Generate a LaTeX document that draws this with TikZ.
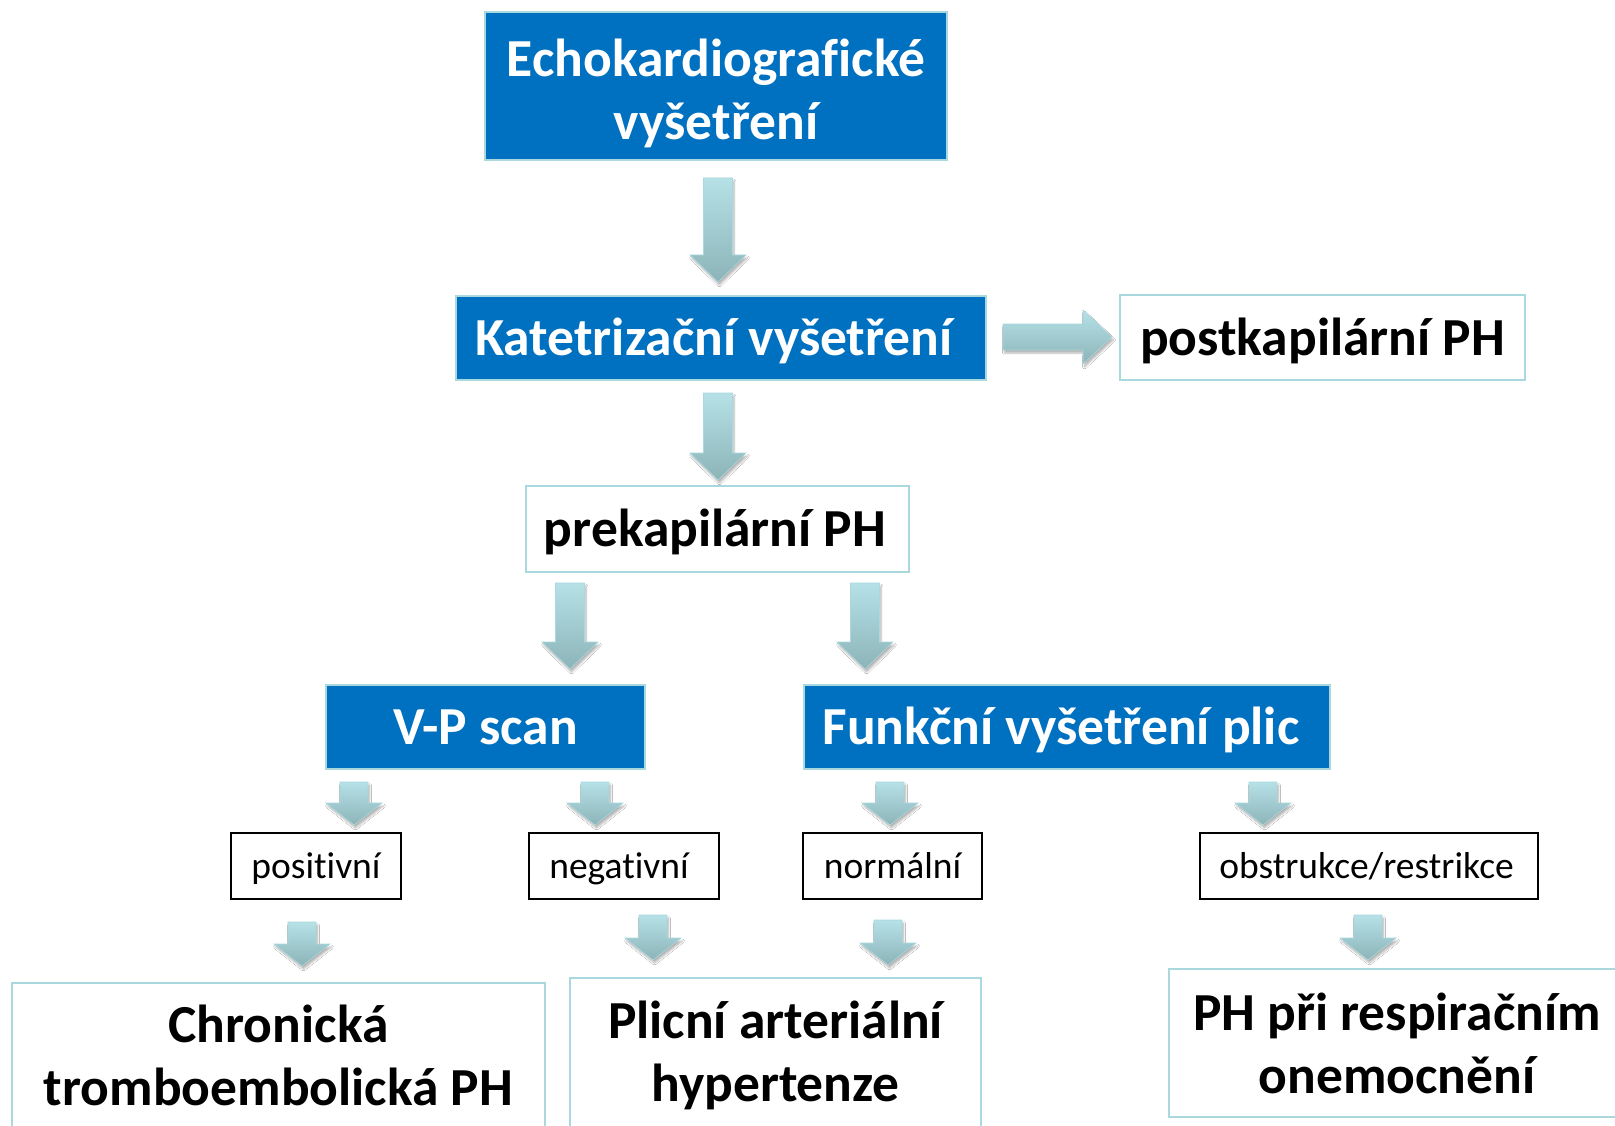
\documentclass[tikz,border=0pt]{standalone}
\usepackage{fontspec}
\setmainfont{Carlito}[Ligatures=NoCommon]
\usetikzlibrary{calc,shadows.blur}
\definecolor{dblue}{HTML}{0070C0}
\definecolor{lteal}{HTML}{A9D8DE}
\definecolor{atop}{HTML}{B5E1E7}
\definecolor{abot}{HTML}{8CB4B8}
\newcommand\varrow[5]{%
  \path[blockarrow] ($(#1)+(-#3,0)$) -- ($(#2)+(-#3,-#5)$) -- ($(#2)+(-#4,-#5)$) -- (#2)
    -- ($(#2)+(#4,-#5)$) -- ($(#2)+(#3,-#5)$) -- ($(#1)+(#3,0)$) -- cycle;}
\newcommand\harrow[5]{%
  \path[blockarrow] ($(#1)+(0,-#3)$) -- ($(#2)+(-#5,-#3)$) -- ($(#2)+(-#5,-#4)$) -- (#2)
    -- ($(#2)+(-#5,#4)$) -- ($(#2)+(-#5,#3)$) -- ($(#1)+(0,#3)$) -- cycle;}
\begin{document}
\begin{tikzpicture}[x=1pt,y=-1pt,
  bigfont/.style={font=\fontsize{53.5}{63}\selectfont\bfseries},
  bluebox/.style={bigfont, draw=lteal, line width=1.5pt, fill=dblue, text=white, align=center, inner sep=0pt},
  whitebox/.style={bigfont, draw=lteal, line width=2pt, fill=white, text=black, align=center, inner sep=0pt},
  labelbox/.style={draw=black, line width=1.5pt, fill=white, font=\fontsize{37.5}{45}\selectfont, inner sep=0pt, text height=29pt, text depth=4pt},
  one/.style={text height=43pt, text depth=8pt},
  blockarrow/.style={top color=atop, bottom color=abot, draw=lteal, line width=0.6pt,
    blur shadow={shadow xshift=1.5pt, shadow yshift=-3pt, shadow blur steps=6, shadow opacity=30}}]
\useasboundingbox (0,0) rectangle (1615,1126);
\clip (0,0) rectangle (1615,1126);
\fill[white] (0,0) rectangle (1615,1126);

\node[bluebox, minimum width=462pt, minimum height=148pt] (echo) at (716,86) {\rule{0pt}{52pt}Echokardiografické\\vyšetření};
\node[bluebox, one, minimum width=530pt, minimum height=84pt] (kat) at (721,338) {Katetrizační vyšetření\hspace*{14pt}};
\node[whitebox, one, minimum width=405pt, minimum height=85pt] (post) at (1322.5,337.5) {postkapilární PH};
\node[whitebox, one, minimum width=383pt, minimum height=86pt] (prek) at (717.5,529) {prekapilární PH\hspace*{5pt}};
\node[bluebox, one, minimum width=319pt, minimum height=84pt] (vp) at (485.5,727) {V-P scan};
\node[bluebox, one, minimum width=526pt, minimum height=84pt] (funk) at (1067,727) {Funkční vyšetření plic\hspace*{12pt}};
\node[labelbox, minimum width=170pt, minimum height=66pt] (pos) at (316,866) {positivní};
\node[labelbox, minimum width=190pt, minimum height=66pt] (neg) at (624,866) {negativní\hspace*{10pt}};
\node[labelbox, minimum width=179pt, minimum height=66pt] (norm) at (892.5,866) {normální};
\node[labelbox, minimum width=338pt, minimum height=66pt] (obst) at (1369,866) {obstrukce/restrikce\hspace*{5pt}};
\node[whitebox, minimum width=533pt, minimum height=145pt] (chron) at (278.5,1055) {Chronická\\tromboembolická PH};
\node[whitebox, minimum width=411pt, minimum height=154pt] (plic) at (775.5,1055) {Plicní arteriální\\hypertenze};
\node[whitebox, minimum width=456pt, minimum height=148pt] (resp) at (1397,1043) {PH při respiračním\\onemocnění};

% connector end points
\coordinate (a1s) at (718,178);  \coordinate (a1e) at (718,282);
\coordinate (a2s) at (718,393);  \coordinate (a2e) at (718,480);
\coordinate (a3s) at (1003,337); \coordinate (a3e) at (1112,337);
\coordinate (a4s) at (570,583);  \coordinate (a4e) at (570,669);
\coordinate (a5s) at (865,583);  \coordinate (a5e) at (865,669);
\coordinate (b1s) at (354,782);  \coordinate (b1e) at (354,825);
\coordinate (b2s) at (595,782);  \coordinate (b2e) at (595,825);
\coordinate (b3s) at (890,782);  \coordinate (b3e) at (890,825);
\coordinate (b4s) at (1263,782); \coordinate (b4e) at (1263,825);
\coordinate (c1s) at (302,922);  \coordinate (c1e) at (302,966);
\coordinate (c2s) at (653,915);  \coordinate (c2e) at (653,960);
\coordinate (c3s) at (888,920);  \coordinate (c3e) at (888,965);
\coordinate (c4s) at (1368,915); \coordinate (c4e) at (1368,960);

\varrow{a1s}{a1e}{14.5}{28}{27}
\varrow{a2s}{a2e}{14.5}{28}{27}
\harrow{a3s}{a3e}{13}{27}{29}
\varrow{a4s}{a4e}{14.5}{28}{27}
\varrow{a5s}{a5e}{14.5}{28}{27}
\varrow{b1s}{b1e}{14}{28}{22}
\varrow{b2s}{b2e}{14}{28}{22}
\varrow{b3s}{b3e}{14}{28}{22}
\varrow{b4s}{b4e}{14}{28}{22}
\varrow{c1s}{c1e}{14}{28}{22}
\varrow{c2s}{c2e}{14}{28}{22}
\varrow{c3s}{c3e}{14}{28}{22}
\varrow{c4s}{c4e}{14}{28}{22}
\end{tikzpicture}
\end{document}
